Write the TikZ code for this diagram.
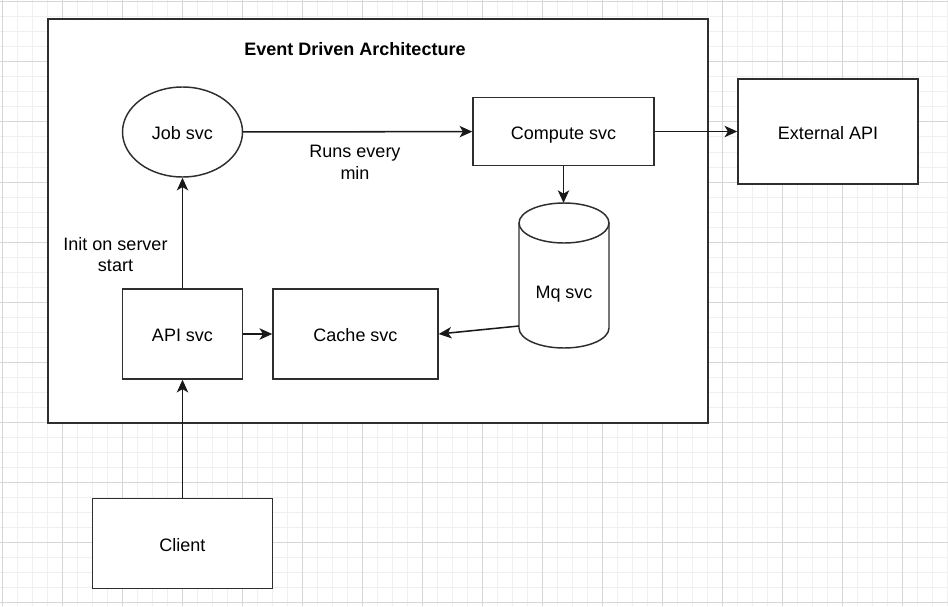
\documentclass[tikz,border=0pt]{standalone}
\usepackage{fontspec}
\setmainfont{Liberation Sans}
\usetikzlibrary{arrows.meta,shapes.geometric}

\begin{document}
\begin{tikzpicture}[x=0.75pt,y=-0.75pt,
  font=\fontsize{13.5}{16.2}\selectfont,
  gridminor/.style={draw=gray!12,line width=0.75pt},
  gridmajor/.style={draw=gray!32,line width=0.75pt},
  svcbox/.style={rectangle,draw=black!82,line width=1.1pt,fill=white,align=center,
    inner sep=0pt,text height=11.5pt,text depth=0pt},
  conn/.style={draw=black!90,line width=1.15pt,-{Stealth[length=9.5pt,width=8.5pt,inset=2.5pt]}},
  lbl/.style={align=center,inner sep=0pt}]
\useasboundingbox (0,0) rectangle (948,606);
%
\fill[white] (0,0) rectangle (948,606);
\foreach \gx in {2,17,...,947} \draw[gridminor] (\gx,0) -- (\gx,606);
\foreach \gy in {2,17,...,602} \draw[gridminor] (0,\gy) -- (948,\gy);
\foreach \gx in {2,62,...,902} \draw[gridmajor] (\gx,0) -- (\gx,606);
\foreach \gy in {2,62,...,602} \draw[gridmajor] (0,\gy) -- (948,\gy);
%
\node (eda) at (378,221) [svcbox,minimum width=495pt,minimum height=303pt] {};
\node (title) at (355,49) [lbl,font=\fontsize{13.5}{16.2}\selectfont\bfseries] {Event Driven Architecture};
%
\node (job) at (182.5,132) [svcbox,ellipse,minimum width=90pt,minimum height=67.5pt] {Job svc};
\node (cmp) at (563.5,131.5) [svcbox,minimum width=135.75pt,minimum height=51pt] {Compute svc};
\node (ext) at (828,131.5) [svcbox,minimum width=135pt,minimum height=78.75pt] {External API};
\node (api) at (182.5,334) [svcbox,minimum width=90pt,minimum height=67.5pt] {API svc};
\node (cache) at (355.5,334) [svcbox,minimum width=123.75pt,minimum height=67.5pt] {Cache svc};
\node (client) at (182.5,543.5) [svcbox,minimum width=135pt,minimum height=67.5pt] {Client};
%
% Mq svc cylinder
\filldraw[fill=white,draw=black!82,line width=1.1pt] (519,223) -- (519,328)
  .. controls (519,339.05) and (539.15,348) .. (564,348)
  .. controls (588.85,348) and (609,339.05) .. (609,328) -- (609,223);
\draw[fill=white,draw=black!82,line width=1.1pt] (564,223) ellipse [x radius=45,y radius=20];
\node (mq) at (564,294) [lbl] {Mq svc};
\coordinate (mqtop) at (563.5,203);
\coordinate (mqleft) at (519,326);
%
\node (runs) at (355,162.5) [lbl] {Runs every\\min};
\node (init) at (115.5,254.5) [lbl] {Init on server\\start};
%%
\draw (job) edge[conn] (cmp);
\draw (cmp) edge[conn] (ext);
\draw (cmp.south) edge[conn] (mqtop);
\draw (mqleft) edge[conn] (cache.east);
\draw (api) edge[conn] (cache);
\draw (api) edge[conn] (job);
\draw (client) edge[conn] (api);
\end{tikzpicture}
\end{document}
